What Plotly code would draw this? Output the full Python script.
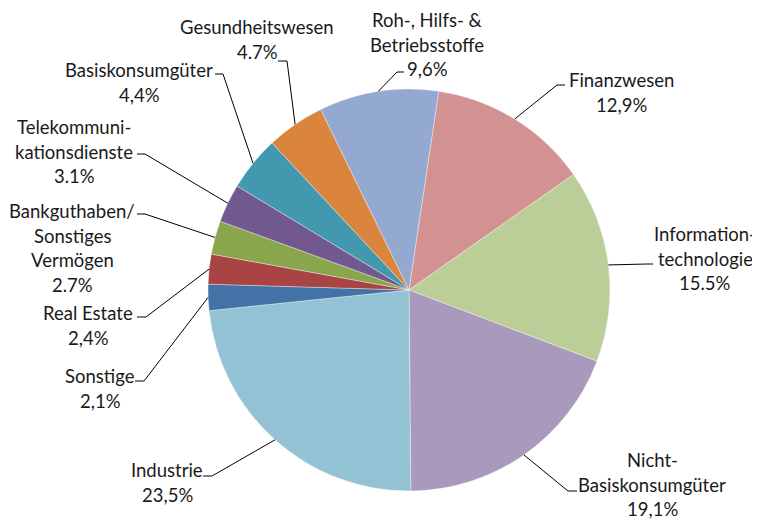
import math
import plotly.graph_objects as go

# ---- data ----
categories = ["Finanzwesen", "Informationtechnologie", "Nicht-Basiskonsumgüter", "Industrie",
              "Sonstige", "Real Estate", "Bankguthaben/Sonstiges Vermögen",
              "Telekommunikationsdienste", "Basiskonsumgüter", "Gesundheitswesen",
              "Roh-, Hilfs- & Betriebsstoffe"]
values = [12.9, 15.5, 19.1, 23.5, 2.1, 2.4, 2.7, 3.1, 4.4, 4.7, 9.6]
pct_labels = ["12,9%", "15.5%", "19,1%", "23,5%", "2,1%", "2,4%", "2.7%", "3.1%", "4,4%", "4.7%", "9,6%"]
label_lines = [
    ["Finanzwesen"],
    ["Information-", "technologie"],
    ["Nicht-", "Basiskonsumgüter"],
    ["Industrie"],
    ["Sonstige"],
    ["Real Estate"],
    ["Bankguthaben/", "Sonstiges", "Vermögen"],
    ["Telekommuni-", "kationsdienste"],
    ["Basiskonsumgüter"],
    ["Gesundheitswesen"],
    ["Roh-, Hilfs- &", "Betriebsstoffe"],
]
colors = ["#D29291", "#BBCE97", "#A99ABD", "#93C2D4", "#4372A7", "#A84544",
          "#8AA64D", "#71598F", "#4198AF", "#DB843D", "#94A9CF"]

# ---- layout (page pixel coordinates; the page body has an 8px margin) ----
OFF = 8
W, H = 760 - OFF, 520 - OFF
CX, CY, R = 409, 290, 201
ROT = 8.5
LINE_STEP = 24.5
FONT = dict(family="Lato, 'Open Sans', sans-serif", size=18.5, color="#1a1a1a")

# label block: (center x, first line y) ; leader: (start x, elbow x, y)
label_pos = [
    (621, 80), (705, 234), (652, 460), (167, 470), (100, 376), (88, 313),
    (72, 211), (74, 127), (139, 70), (257, 27), (427, 20),
]
leaders = [
    (565, 557, 85), (653, 647, 264), (577, 568, 491), (203, 212, 476),
    (135, 144, 381), (137, 146, 317), (137, 145, 214), (137, 145, 154),
    (215, 223, 74), (278, 287, 61), (404, 397, 72),
]


def px(x):
    return (x - OFF) / W


def py(y):
    return 1 - (y - OFF) / H


fig = go.Figure(go.Pie(
    labels=categories, values=values, sort=False, direction="clockwise",
    rotation=ROT, textinfo="none", hoverinfo="label+percent",
    marker=dict(colors=colors, line=dict(color="rgba(255,255,255,0.6)", width=0.6)),
    domain=dict(x=[px(CX - R), px(CX + R)], y=[py(CY + R), py(CY - R)]),
    showlegend=False,
))

annotations = []
shapes = []
total = sum(values)
cum = 0.0
for i, v in enumerate(values):
    mid = (cum + v / 2) / total
    cum += v
    ang = math.radians(ROT + 360 * mid)
    ex, ey = CX + R * math.sin(ang), CY - R * math.cos(ang)
    lx, ly = label_pos[i]
    lines = label_lines[i] + [pct_labels[i]]
    for k, t in enumerate(lines):
        annotations.append(dict(
            x=px(lx), y=py(ly + k * LINE_STEP), xref="paper", yref="paper",
            text=t, showarrow=False, xanchor="center", yanchor="middle", font=FONT))
    sx, elx, sy = leaders[i]
    shapes.append(dict(
        type="path", xref="paper", yref="paper",
        path=f"M {px(sx)} {py(sy)} L {px(elx)} {py(sy)} L {px(ex)} {py(ey)}",
        line=dict(color="#000000", width=1)))

fig.update_layout(
    width=W, height=H, margin=dict(l=0, r=0, t=0, b=0),
    paper_bgcolor="white", plot_bgcolor="white",
    annotations=annotations, shapes=shapes,
)
fig.write_html("out.html")
